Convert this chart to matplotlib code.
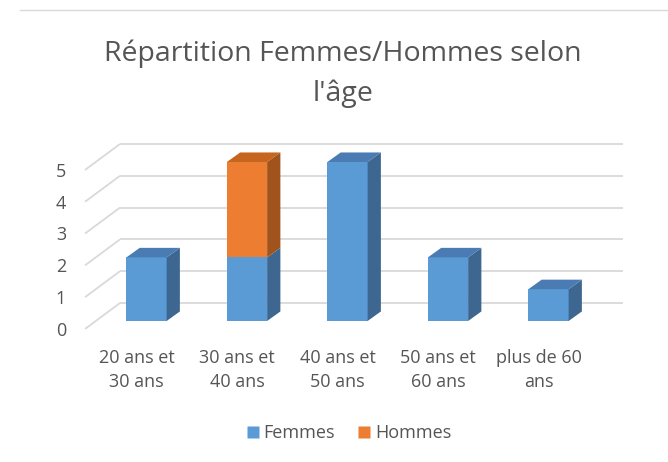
import matplotlib
matplotlib.use("Agg")
import matplotlib.pyplot as plt
from matplotlib.patches import Polygon
from matplotlib.lines import Line2D

categories = ["20 ans et\n30 ans", "30 ans et\n40 ans", "40 ans et\n50 ans",
              "50 ans et\n60 ans", "plus de 60\nans"]
femmes = [2, 2, 5, 2, 1]
hommes = [0, 3, 0, 0, 0]
yticks = [0, 1, 2, 3, 4, 5]
title = "Répartition Femmes/Hommes selon\nl'âge"

plt.rcParams['font.family'] = ['Open Sans', 'DejaVu Sans']
TXT = "#555555"
GRID = "#D9D9D9"
BLUE, BLUE_TOP, BLUE_SIDE = "#5B9BD5", "#4A7CB3", "#3D6790"
ORA, ORA_TOP, ORA_SIDE = "#ED7D31", "#C5651F", "#A0531C"

fig = plt.figure(figsize=(6.68, 4.62), dpi=100)
ax = fig.add_axes([0, 0, 1, 1])
ax.set_xlim(-1.458, 5.189)
ax.set_ylim(-4.434, 10.094)
ax.axis("off")

W = 0.4           # bar width
DX, DY = 0.132, 0.30   # bar depth offset
# wall/floor geometry
FX0, FY0 = -0.612, -0.25   # front end of the side wall lines
BX0, BY0 = -0.264, 0.566   # back wall start
BX1 = 4.74

for v in yticks:
    ax.plot([BX0, BX1], [v + BY0, v + BY0], color=GRID, lw=1.3, zorder=1,
            solid_capstyle="butt")
    ax.plot([FX0, BX0], [v + FY0, v + BY0], color=GRID, lw=1.3, zorder=1,
            solid_capstyle="butt")
    ax.text(-0.80, v - 0.31, str(v), ha="right", va="center",
            fontsize=13, color=TXT)

xs = list(range(len(categories)))

def draw_segment(x, b, t, front, top, side, show_top):
    ax.bar(x, t - b, bottom=b, width=W, color=front, zorder=3, linewidth=0)
    ax.add_patch(Polygon([(x + W/2, b), (x + W/2 + DX, b + DY),
                          (x + W/2 + DX, t + DY), (x + W/2, t)],
                         closed=True, facecolor=side, edgecolor="none", zorder=3))
    if show_top:
        ax.add_patch(Polygon([(x - W/2, t), (x - W/2 + DX, t + DY),
                              (x + W/2 + DX, t + DY), (x + W/2, t)],
                             closed=True, facecolor=top, edgecolor="none", zorder=3))

for x, f, h in zip(xs, femmes, hommes):
    if f > 0:
        draw_segment(x, 0, f, BLUE, BLUE_TOP, BLUE_SIDE, h == 0)
    if h > 0:
        draw_segment(x, f, f + h, ORA, ORA_TOP, ORA_SIDE, True)

for x, lab in zip(xs, categories):
    ax.text(x - 0.1, -1.55, lab, ha="center", va="center", fontsize=13,
            color=TXT, linespacing=1.4)

fig.text(0.513, 0.84, title, ha="center", va="center", fontsize=20.5,
         color=TXT, linespacing=1.55)

handles = [Line2D([], [], marker="s", linestyle="none", markersize=9,
                  markerfacecolor=BLUE, markeredgecolor="none", label="Femmes"),
           Line2D([], [], marker="s", linestyle="none", markersize=9,
                  markerfacecolor=ORA, markeredgecolor="none", label="Hommes")]
leg = fig.legend(handles=handles, loc="center", bbox_to_anchor=(0.52, 0.063),
                 ncol=2, frameon=False, fontsize=13, handletextpad=0.1,
                 columnspacing=1.1, handlelength=1.0)
for t in leg.get_texts():
    t.set_color(TXT)

fig.add_artist(Line2D([0.03, 1.0], [1 - 10/462, 1 - 10/462], color=GRID, lw=1.0,
                      transform=fig.transFigure))

fig.savefig("out.png", dpi=100)
